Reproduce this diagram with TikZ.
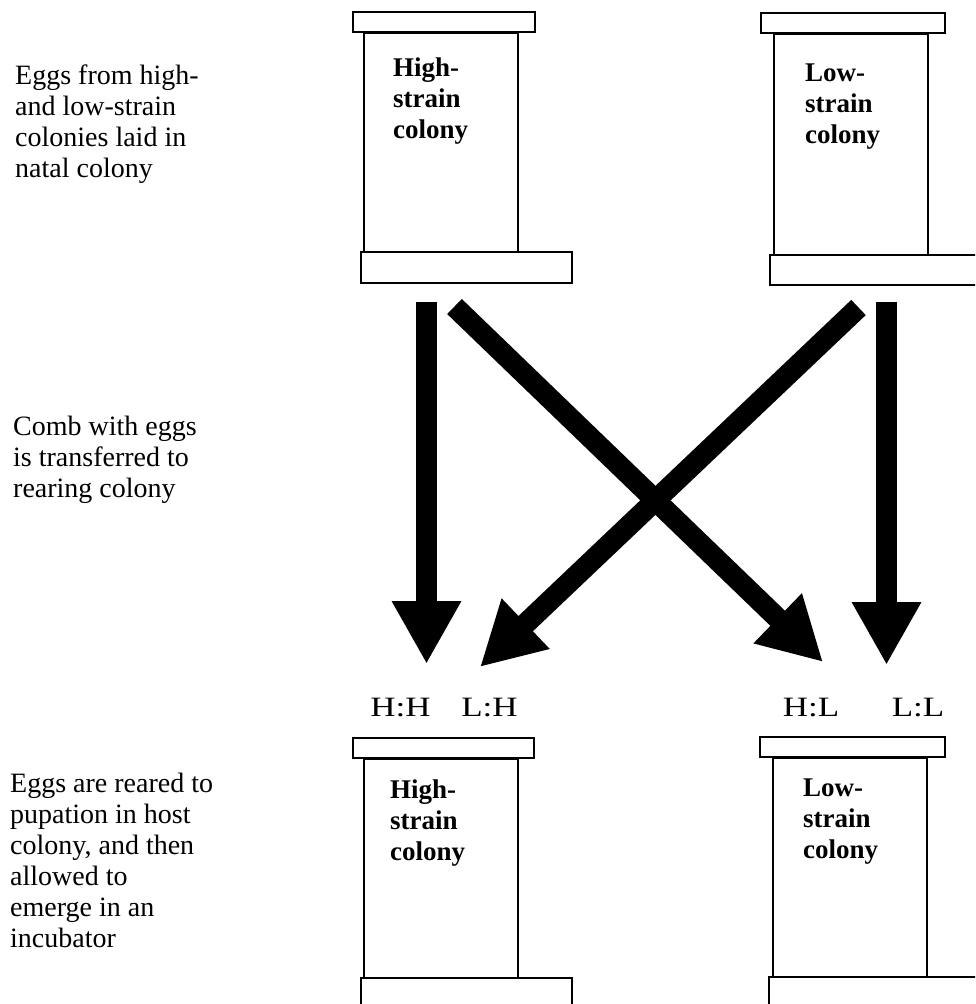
\documentclass[tikz,border=0pt]{standalone}
\usepackage{fontspec}
\setmainfont{Liberation Serif}
\usetikzlibrary{arrows.meta}
\tikzset{
  hivepart/.style={draw=black, line width=2.2pt, fill=white},
  hivebody/.style={hivepart, anchor=north west, inner sep=0pt, minimum width=154pt},
  hivetext/.style={anchor=north west, inner sep=0pt, align=left,
    font=\fontsize{27}{31}\selectfont\bfseries},
  sidetext/.style={anchor=north west, inner sep=0pt, align=left,
    font=\fontsize{28}{31}\selectfont},
  pairlabel/.style={anchor=base, inner sep=0pt, font=\fontsize{28}{30}\selectfont},
  bigarrow/.style={line width=21pt, line cap=butt,
    -{Triangle[length=63pt, width=65pt]}},
}
\newcommand{\widelabel}[1]{\scalebox{1.25}[1]{#1}}
\begin{document}
\begin{tikzpicture}[x=1pt, y=-1pt]
\useasboundingbox (0,0) rectangle (975,1004);
\clip (0,0) rectangle (975,1004);
% ---------- top-left hive (high strain, natal)
\draw[hivepart] (353,12) rectangle (535,32);
\node[hivebody, minimum height=220pt] (tH) at (363,32) {};
\draw[hivepart] (361,252) rectangle (572,283);
\node[hivetext] (tHtext) at (393,57.5) {High-\\strain\\colony};
% ---------- top-right hive (low strain, natal)
\draw[hivepart] (761,13) rectangle (945,33);
\node[hivebody, minimum height=222pt] (tL) at (773,33) {};
\draw[hivepart] (770,255) rectangle (990,285);
\node[hivetext] (tLtext) at (805,64) {Low-\\strain\\colony};
% ---------- bottom-left hive (high strain, rearing)
\draw[hivepart] (353,738) rectangle (534,758);
\node[hivebody, minimum height=220pt] (bH) at (363,758) {};
\draw[hivepart] (361,978) rectangle (572,1015);
\node[hivetext] (bHtext) at (390,779.5) {High-\\strain\\colony};
% ---------- bottom-right hive (low strain, rearing)
\draw[hivepart] (760,737) rectangle (945,757);
\node[hivebody, minimum height=220pt] (bL) at (772,757) {};
\draw[hivepart] (769,977) rectangle (990,1015);
\node[hivetext] (bLtext) at (803,779) {Low-\\strain\\colony};
% ---------- pair labels
\node[pairlabel] (HH) at (400.5,716) {\widelabel{H:H}};
\node[pairlabel] (LH) at (489.5,716) {\widelabel{L:H}};
\node[pairlabel] (HL) at (811,716) {\widelabel{H:L}};
\node[pairlabel] (LL) at (918,716) {\widelabel{L:L}};
% ---------- arrow end points
\coordinate (a1s) at (426.5,302);
\coordinate (a1e) at (426.5,664);
\coordinate (a2s) at (454.5,306.5);
\coordinate (a2e) at (823,662);
\coordinate (a3s) at (858.5,307.5);
\coordinate (a3e) at (480,667);
\coordinate (a4s) at (886.5,302);
\coordinate (a4e) at (886.5,665);
\draw[bigarrow] (a1s) -- (a1e);
\draw[bigarrow] (a2s) -- (a2e);
\draw[bigarrow] (a3s) -- (a3e);
\draw[bigarrow] (a4s) -- (a4e);
% ---------- side texts
\node[sidetext] (s1) at (15,65) {Eggs from high-\\and low-strain\\colonies laid in\\natal colony};
\node[sidetext] (s2) at (13,416) {Comb with eggs\\is transferred to\\rearing colony};
\node[sidetext] (s3) at (10,773) {Eggs are reared to\\pupation in host\\colony, and then\\allowed to\\emerge in an\\incubator};
\end{tikzpicture}
\end{document}
